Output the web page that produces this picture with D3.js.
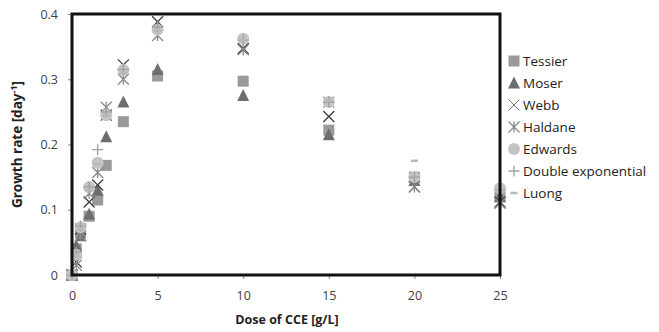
<!DOCTYPE html>
<html>
<head>
<meta charset="utf-8">
<script src="https://cdn.jsdelivr.net/npm/d3@7"></script>
<style>
  body { margin: 0; background: #fff; }
  svg { display: block; font-family: "Open Sans", "Noto Sans", sans-serif; }
</style>
</head>
<body>
<div id="chart"></div>
<script>
const width = 659, height = 332;

// dose of CCE [g/L]
const doses = [0, 0.25, 0.5, 1, 1.5, 2, 3, 5, 10, 15, 20, 25];
const xTicks = [0, 5, 10, 15, 20, 25];
const yTicks = [0, 0.1, 0.2, 0.3, 0.4];

// growth rates per model
const tessier = [0, 0.04, 0.065, 0.09, 0.115, 0.168, 0.235, 0.305, 0.297, 0.222, 0.15, 0.12];
const moser = [0, 0.045, 0.06, 0.093, 0.13, 0.212, 0.265, 0.315, 0.275, 0.215, 0.145, 0.12];
const webb = [0, 0.02, 0.07, 0.112, 0.138, 0.245, 0.322, 0.388, 0.347, 0.243, 0.135, 0.112];
const haldane = [0, 0.015, 0.06, 0.125, 0.157, 0.257, 0.30, 0.367, 0.345, 0.265, 0.135, 0.11];
const edwards = [0, 0.031, 0.073, 0.135, 0.172, 0.245, 0.314, 0.376, 0.362, 0.265, 0.15, 0.133];
const doubleExp = [0, 0.035, 0.075, 0.135, 0.192, 0.25, 0.315, 0.38, 0.36, 0.265, 0.15, 0.13];
const luong = [0, 0.03, 0.07, 0.13, 0.17, 0.245, 0.31, 0.375, 0.36, 0.268, 0.175, 0.13];

const seriesNames = ["Tessier", "Moser", "Webb", "Haldane", "Edwards", "Double exponential", "Luong"];
const seriesValues = [tessier, moser, webb, haldane, edwards, doubleExp, luong];

const plot = {left: 72, top: 14, right: 500, bottom: 275};

const x = d3.scaleLinear().domain([0, 25]).range([plot.left, plot.right]);
const y = d3.scaleLinear().domain([0, 0.4]).range([plot.bottom, plot.top]);

const svg = d3.select("#chart").append("svg")
    .attr("width", width)
    .attr("height", height);

svg.append("rect").attr("width", width).attr("height", height).attr("fill", "#fff");

// marker drawing, one per series
const s = 5.5;
const markers = {
    "Tessier": (g, legend) => g.append("rect").attr("x", -s).attr("y", -s).attr("width", 2 * s).attr("height", 2 * s)
        .attr("fill", "#9a9a9a"),
    "Moser": g => g.append("path").attr("d", `M0,${-s - 1}L${s + 0.5},${s}L${-s - 0.5},${s}Z`)
        .attr("fill", "#6e6e6e"),
    "Webb": (g, legend) => g.append("path").attr("d", `M${-s},${-s}L${s},${s}M${-s},${s}L${s},${-s}`)
        .attr("stroke", legend ? "#777" : "#3f3f3f").attr("stroke-width", legend ? 1 : 1.3).attr("fill", "none"),
    "Haldane": g => g.append("path").attr("d", `M${-s},${-s}L${s},${s}M${-s},${s}L${s},${-s}M0,${-s}L0,${s}`)
        .attr("stroke", "#8a8a8a").attr("stroke-width", 1.3).attr("fill", "none"),
    "Edwards": g => g.append("circle").attr("r", s + 0.5).attr("fill", "#c4c4c4"),
    "Double exponential": g => g.append("path").attr("d", `M${-s},0L${s},0M0,${-s}L0,${s}`)
        .attr("stroke", "#a0a0a0").attr("stroke-width", 1.3).attr("fill", "none"),
    "Luong": g => g.append("path").attr("d", `M-3.5,0L3.5,0`)
        .attr("stroke", "#b8b8b8").attr("stroke-width", 2.5).attr("fill", "none")
};

// axes
const yAxis = d3.axisLeft(y).tickValues(yTicks).tickSize(4).tickPadding(10)
    .tickFormat(d => d === 0 ? "0" : d3.format(".1f")(d));
const xAxis = d3.axisBottom(x).tickValues(xTicks).tickSize(4).tickPadding(12);

const gy = svg.append("g").attr("transform", `translate(${plot.left},0)`).call(yAxis);
const gx = svg.append("g").attr("transform", `translate(0,${plot.bottom})`).call(xAxis);
[gx, gy].forEach(g => {
    g.select(".domain").remove();
    g.selectAll(".tick line").attr("stroke", "#888");
    g.selectAll(".tick text").attr("fill", "#404040").style("font-size", "12.5px")
        .style("font-family", "'Open Sans', sans-serif");
});

// points
seriesNames.forEach((name, i) => {
    svg.append("g").attr("class", "series")
        .selectAll("g")
        .data(doses.map((d, j) => [d, seriesValues[i][j]]))
        .enter().append("g")
        .attr("transform", d => `translate(${x(d[0])},${y(d[1])})`)
        .each(function () { markers[name](d3.select(this), false); });
});

// plot frame
svg.append("rect")
    .attr("x", plot.left).attr("y", plot.top)
    .attr("width", plot.right - plot.left).attr("height", plot.bottom - plot.top)
    .attr("fill", "none").attr("stroke", "#111").attr("stroke-width", 3);

// axis titles
svg.append("text")
    .attr("x", 287).attr("y", 324)
    .attr("text-anchor", "middle")
    .style("font-size", "12.5px").style("font-weight", "bold").attr("fill", "#222")
    .text("Dose of CCE [g/L]");

const yt = svg.append("text")
    .attr("transform", `translate(22,${(plot.top + plot.bottom) / 2}) rotate(-90)`)
    .attr("text-anchor", "middle")
    .style("font-size", "13.5px").style("font-weight", "bold").attr("fill", "#222");
yt.append("tspan").text("Growth rate [day");
yt.append("tspan").attr("dy", -5).style("font-size", "9px").text("-1");
yt.append("tspan").attr("dy", 5).text("]");

// legend
const legend = svg.append("g").attr("transform", "translate(514,61)");
seriesNames.forEach((name, i) => {
    const row = legend.append("g").attr("transform", `translate(0,${i * 22})`);
    markers[name](row.append("g"), true);
    row.append("text").attr("x", 9).attr("y", 5)
        .style("font-size", "13.5px").attr("fill", "#222")
        .text(name);
});
</script>
</body>
</html>
